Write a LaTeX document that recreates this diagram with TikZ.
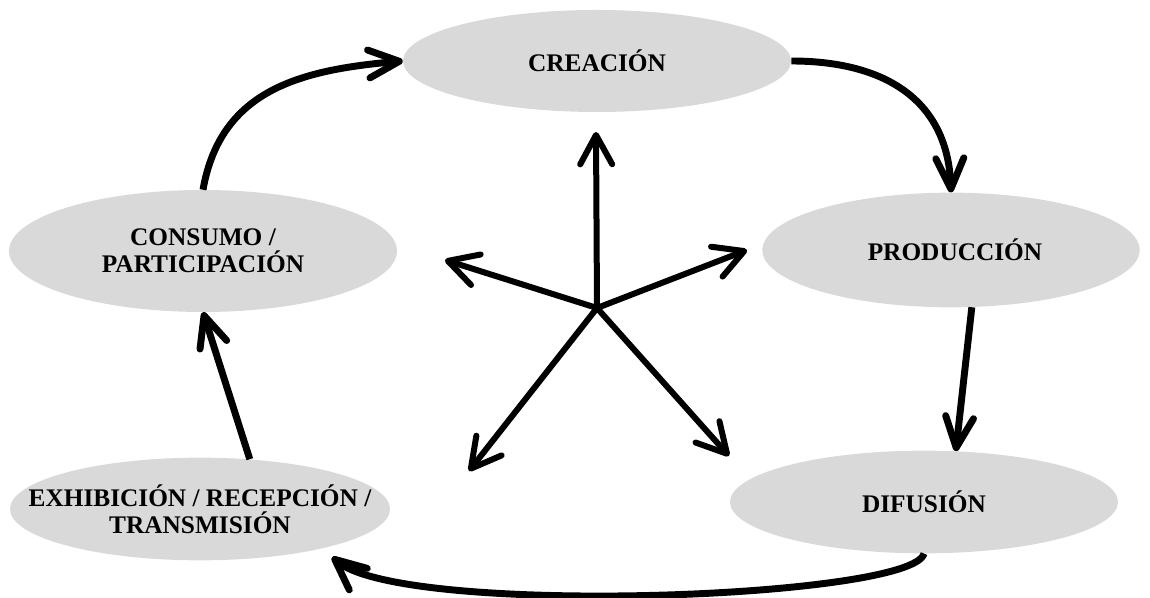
\documentclass[tikz,border=0pt]{standalone}
\usepackage{fontspec}
\setmainfont{Liberation Serif}
\usetikzlibrary{shapes.geometric, arrows.meta}

\definecolor{stagegray}{HTML}{D9D9D9}

\begin{document}
\begin{tikzpicture}[
  x=0.75pt, y=0.75pt,
  stage/.style={ellipse, fill=stagegray, draw=none, inner sep=0pt},
  stagetext/.style={font=\fontsize{19}{20}\selectfont\bfseries, align=center},
  flow/.style={line width=5.2pt, -{Straight Barb[round, length=23pt, width=21pt]}},
  spoke/.style={line width=4.5pt, line cap=round, -{Straight Barb[round, length=22pt, width=24pt]}}
]
  \useasboundingbox (0,0) rectangle (1150,598);

  % stages of the cycle
  \node[stage, minimum width=291pt, minimum height=76.5pt] (crea) at (597,537) {};
  \node[stage, minimum width=291pt, minimum height=91.5pt] (cons) at (203,347) {};
  \node[stage, minimum width=283pt, minimum height=86pt] (prod) at (951,348) {};
  \node[stage, minimum width=285pt, minimum height=77pt] (exhi) at (200,89) {};
  \node[stage, minimum width=291pt, minimum height=77pt] (difu) at (924,96) {};

  \node[stagetext] (crea-t) at (crea) {CREACIÓN};
  \node[stagetext] (cons-t) at (cons) {CONSUMO /\\PARTICIPACIÓN};
  \node[stagetext] (prod-t) at (955,348) {PRODUCCIÓN};
  \node[stagetext] (exhi-t) at (exhi) {EXHIBICIÓN / RECEPCIÓN /\\TRANSMISIÓN};
  \node[stagetext] (difu-t) at (difu) {DIFUSIÓN};

  % star in the middle
  \coordinate (hub) at (597,290);
  \coordinate (up) at (596,466);
  \coordinate (upleft) at (445,338);
  \coordinate (upright) at (747,348);
  \coordinate (downleft) at (469,127);
  \coordinate (downright) at (729,142);
  \foreach \tip in {up, upleft, upright, downleft, downright}
    \draw[spoke] (hub) -- (\tip);

  \path[flow]
    (cons.north) edge[out=80, in=185, looseness=1.1] (crea.west)
    (crea.east) edge[out=0, in=92, looseness=1.15] (prod.north)
    (prod.-70) edge (difu.58)
    (difu.south) edge[out=-104, in=-40, out distance=35pt, in distance=80pt, shorten >=10pt] (exhi.-18)
    (exhi.45) edge (cons.south);
\end{tikzpicture}
\end{document}
